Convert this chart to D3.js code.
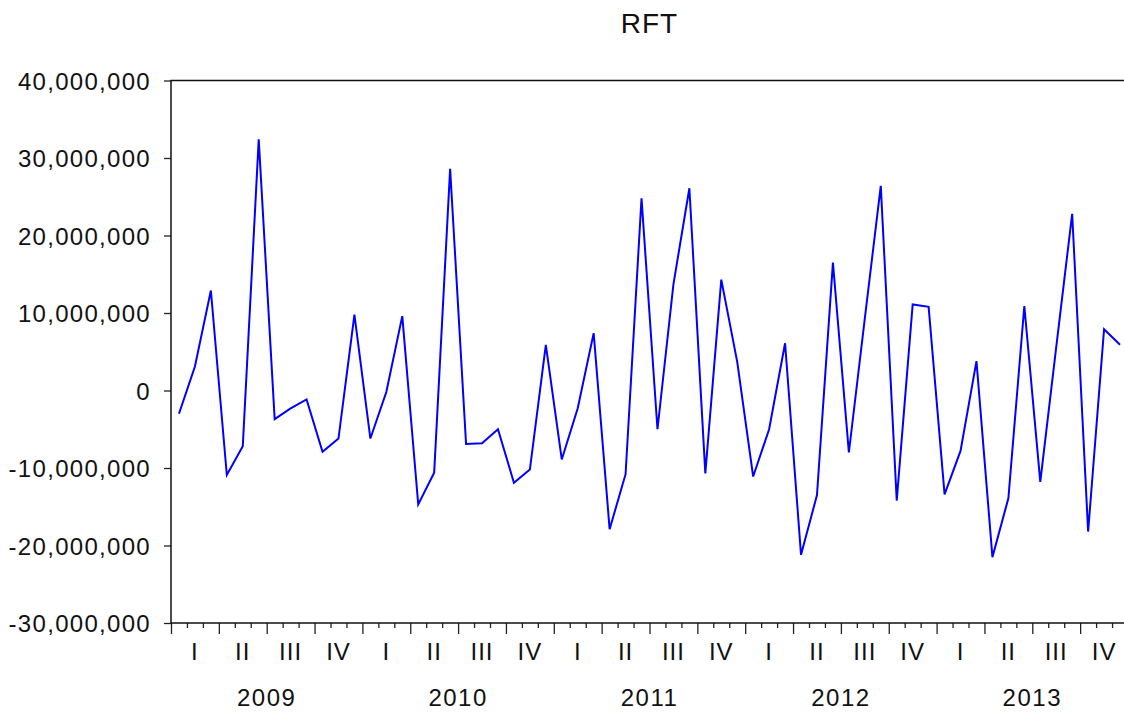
<!DOCTYPE html>
<html lang="en">

<head>
    <meta charset="UTF-8">
    <title>RFT</title>
    <script src="https://cdn.jsdelivr.net/npm/d3@7"></script>
    <style>
        * {
            margin: 0;
            padding: 0;
        }

        body {
            background: #fff;
        }

        text {
            font-family: "Liberation Sans", Arial, Helvetica, sans-serif;
            fill: #111;
        }
    </style>
</head>

<body>
    <div id="chart"></div>
    <script>
        // monthly series, 2009M01 - 2013M12
        const years = [2009, 2010, 2011, 2012, 2013];
        const quarterLabels = ['I', 'II', 'III', 'IV'];
        const yTicks = [-30000000, -20000000, -10000000, 0, 10000000, 20000000, 30000000, 40000000];
        const rft = [
            -3.0, 3.1, 12.9, -10.9, -7.2, 32.4, -3.7, -2.3, -1.15, -7.9, -6.2, 9.8,
            -6.2, -0.2, 9.6, -14.7, -10.6, 28.6, -6.9, -6.8, -5.0, -11.9, -10.2, 5.9,
            -8.9, -2.3, 7.4, -17.9, -10.8, 24.8, -5.0, 13.7, 26.1, -10.7, 14.3, 3.7,
            -11.1, -5.0, 6.1, -21.2, -13.5, 16.5, -8.0, 9.3, 26.4, -14.2, 11.1, 10.8,
            -13.4, -7.8, 3.8, -21.5, -13.9, 10.9, -11.8, 5.6, 22.8, -18.2, 7.9, 5.9
        ].map(v => v * 1e6);

        const svgWidth = 1124;
        const svgHeight = 712;

        // plot frame (right edge runs just past the window)
        const plot = { left: 171, right: 1128, top: 80.5, bottom: 623 };

        const svg = d3.select('#chart')
            .append('svg')
            .attr('width', svgWidth)
            .attr('height', svgHeight);

        const nMonths = years.length * 12;

        const x = d3.scaleLinear()
            .domain([0, nMonths])
            .range([plot.left, plot.right]);

        const y = d3.scaleLinear()
            .domain([-30000000, 40000000])
            .range([plot.bottom, plot.top]);

        // plain hyphen for negatives, like the original
        const fmt = d => d3.format(',')(d).replace('\u2212', '-');

        // title
        svg.append('text')
            .attr('x', (plot.left + plot.right) / 2)
            .attr('y', 33)
            .attr('text-anchor', 'middle')
            .attr('font-size', '28px')
            .attr('letter-spacing', '1px')
            .text('RFT');

        // y axis
        const yAxisG = svg.append('g')
            .attr('transform', `translate(${plot.left},0)`)
            .call(d3.axisLeft(y).tickValues(yTicks).tickFormat(fmt).tickSize(7).tickPadding(13));

        yAxisG.select('.domain').remove();
        yAxisG.selectAll('line').attr('stroke', '#222').attr('stroke-width', 1.3);
        yAxisG.selectAll('text')
            .attr('font-size', '24px')
            .attr('letter-spacing', '1.3px')
            .attr('fill', '#111')
            .attr('font-family', '"Liberation Sans", Arial, sans-serif')
            .attr('dy', '0.36em');

        // x axis: a tick per month, longer ones at quarters
        const xAxisG = svg.append('g')
            .attr('transform', `translate(0,${plot.bottom})`)
            .call(d3.axisBottom(x).tickValues(d3.range(0, nMonths + 1)).tickFormat('').tickSizeOuter(0)
                .tickSize(6));

        xAxisG.select('.domain').remove();
        xAxisG.selectAll('.tick line')
            .attr('stroke', '#222')
            .attr('stroke-width', 1.3)
            .attr('y2', d => d % 3 === 0 ? 11 : 5);

        // quarter labels
        const quarters = d3.range(years.length * 4);
        svg.append('g')
            .selectAll('text')
            .data(quarters)
            .enter()
            .append('text')
            .attr('x', q => x(q * 3 + 1.5))
            .attr('y', 660)
            .attr('text-anchor', 'middle')
            .attr('font-size', '24px')
            .attr('letter-spacing', '1px')
            .text(q => quarterLabels[q % 4]);

        // year labels
        svg.append('g')
            .selectAll('text')
            .data(years)
            .enter()
            .append('text')
            .attr('x', (d, i) => x(i * 12 + 6))
            .attr('y', 706)
            .attr('text-anchor', 'middle')
            .attr('font-size', '24px')
            .attr('letter-spacing', '1.5px')
            .text(d => d);

        // frame
        svg.append('rect')
            .attr('x', plot.left)
            .attr('y', plot.top)
            .attr('width', plot.right - plot.left)
            .attr('height', plot.bottom - plot.top)
            .attr('fill', 'none')
            .attr('stroke', '#111')
            .attr('stroke-width', 1.5);

        // series line
        const line = d3.line()
            .x((d, i) => x(i + 0.5))
            .y(d => y(d));

        svg.append('path')
            .datum(rft)
            .attr('d', line)
            .attr('fill', 'none')
            .attr('stroke', '#0000ff')
            .attr('stroke-width', 2)
            .attr('stroke-linejoin', 'miter');
    </script>
</body>

</html>
